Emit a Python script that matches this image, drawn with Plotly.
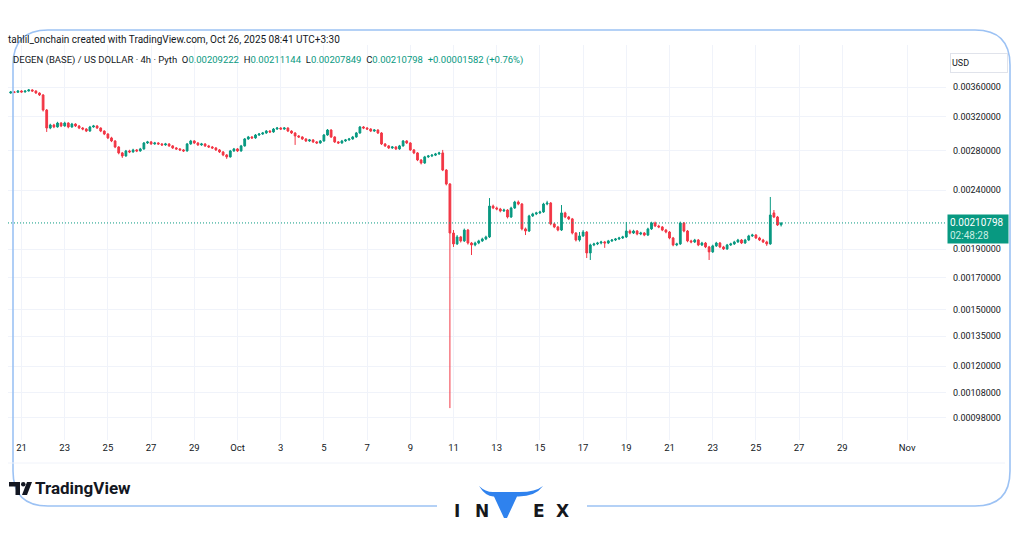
import pandas as pd
import plotly.graph_objects as go

# ---------------- data (DEGEN/USD, 4h candles) ----------------
TIMES = pd.date_range("2025-09-20 12:00", "2025-10-26 04:00", freq="4h")

OPEN = [
    0.003516, 0.003530, 0.003526,
    0.003544, 0.003530, 0.003544, 0.003558, 0.003544, 0.003516,
    0.003489, 0.003288, 0.003063, 0.003100, 0.003076, 0.003124,
    0.003088, 0.003124, 0.003076, 0.003112, 0.003088, 0.003063,
    0.003051, 0.003027, 0.003076, 0.003088, 0.003063, 0.003027,
    0.002992, 0.002946, 0.002911, 0.002843, 0.002777, 0.002744,
    0.002799, 0.002788, 0.002810, 0.002799, 0.002821, 0.002888,
    0.002900, 0.002877, 0.002888, 0.002877, 0.002866, 0.002877,
    0.002855, 0.002832, 0.002821, 0.002810, 0.002799, 0.002877,
    0.002911, 0.002888, 0.002866, 0.002877, 0.002855, 0.002843,
    0.002832, 0.002810, 0.002788, 0.002755, 0.002734, 0.002799,
    0.002821, 0.002799, 0.002855, 0.002934, 0.002957, 0.002946,
    0.002980, 0.002992, 0.003004, 0.003027, 0.003016, 0.003051,
    0.003063, 0.003051, 0.003063, 0.003027, 0.003004, 0.002969,
    0.002957, 0.002934, 0.002911, 0.002923, 0.002900, 0.002888,
    0.002911, 0.002980, 0.003039, 0.002957, 0.002900, 0.002888,
    0.002911, 0.002923, 0.002934, 0.002957, 0.003004, 0.003076,
    0.003063, 0.003051, 0.003027, 0.003039, 0.003004, 0.002877,
    0.002855, 0.002832, 0.002843, 0.002821, 0.002855, 0.002911,
    0.002888, 0.002810, 0.002777, 0.002701, 0.002669, 0.002734,
    0.002744, 0.002753, 0.002766, 0.002777, 0.002596, 0.002457,
    0.002026, 0.001941, 0.001995, 0.001964, 0.002050, 0.001948,
    0.001933, 0.001948, 0.001964, 0.001979, 0.001995, 0.002253,
    0.002236, 0.002227, 0.002210, 0.002218, 0.002158, 0.002236,
    0.002289, 0.002271, 0.002059, 0.002042, 0.002167, 0.002184,
    0.002193, 0.002201, 0.002271, 0.002280, 0.002100, 0.002075,
    0.002050, 0.002193, 0.002158, 0.002142, 0.002026, 0.001971,
    0.002003, 0.002034, 0.001873, 0.001933, 0.001941, 0.001948,
    0.001956, 0.001948, 0.001964, 0.001971, 0.001979, 0.001987,
    0.001995, 0.002042, 0.002026, 0.002042, 0.002018, 0.002026,
    0.002010, 0.002059, 0.002108, 0.002083, 0.002075, 0.002050,
    0.002034, 0.001987, 0.001933, 0.001941, 0.002108, 0.002042,
    0.001964, 0.001956, 0.001971, 0.001933, 0.001948, 0.001918,
    0.001881, 0.001926, 0.001948, 0.001918, 0.001903, 0.001933,
    0.001941, 0.001956, 0.001971, 0.001948, 0.001971, 0.002003,
    0.002010, 0.001987, 0.001971, 0.001956, 0.001941, 0.002193,
    0.002158, 0.00209222,
]
HIGH = [
    0.003544, 0.003542, 0.003556,
    0.003555, 0.003552, 0.003572, 0.003569, 0.003553, 0.003525,
    0.003500, 0.003301, 0.003115, 0.003114, 0.003139, 0.003135,
    0.003140, 0.003133, 0.003126, 0.003121, 0.003099, 0.003075,
    0.003062, 0.003089, 0.003101, 0.003098, 0.003071, 0.003035,
    0.003001, 0.002959, 0.002920, 0.002852, 0.002788, 0.002810,
    0.002812, 0.002823, 0.002820, 0.002833, 0.002899, 0.002912,
    0.002911, 0.002900, 0.002897, 0.002886, 0.002889, 0.002885,
    0.002864, 0.002842, 0.002830, 0.002820, 0.002888, 0.002923,
    0.002920, 0.002898, 0.002889, 0.002885, 0.002866, 0.002854,
    0.002841, 0.002820, 0.002797, 0.002765, 0.002810, 0.002832,
    0.002831, 0.002866, 0.002945, 0.002969, 0.002968, 0.002992,
    0.003004, 0.003016, 0.003039, 0.003038, 0.003063, 0.003076,
    0.003074, 0.003075, 0.003072, 0.003036, 0.003013, 0.002980,
    0.002966, 0.002943, 0.002934, 0.002932, 0.002910, 0.002922,
    0.002992, 0.003051, 0.003048, 0.002966, 0.002910, 0.002923,
    0.002934, 0.002946, 0.002969, 0.003016, 0.003088, 0.003087,
    0.003074, 0.003061, 0.003050, 0.003048, 0.003014, 0.002887,
    0.002865, 0.002854, 0.002853, 0.002866, 0.002922, 0.002920,
    0.002897, 0.002820, 0.002786, 0.002710, 0.002745, 0.002755,
    0.002764, 0.002777, 0.002790, 0.002810, 0.002605, 0.002466,
    0.002050, 0.002010, 0.002003, 0.002062, 0.002059, 0.001956,
    0.001958, 0.001973, 0.001989, 0.002005, 0.002325, 0.002266,
    0.002248, 0.002237, 0.002230, 0.002226, 0.002247, 0.002300,
    0.002303, 0.002280, 0.002070, 0.002177, 0.002194, 0.002203,
    0.002212, 0.002282, 0.002300, 0.002289, 0.002110, 0.002084,
    0.002262, 0.002203, 0.002167, 0.002150, 0.002034, 0.002034,
    0.002050, 0.002042, 0.001943, 0.001950, 0.001957, 0.001965,
    0.001964, 0.001972, 0.001979, 0.001987, 0.001996, 0.002004,
    0.002116, 0.002054, 0.002052, 0.002050, 0.002036, 0.002034,
    0.002069, 0.002118, 0.002119, 0.002093, 0.002083, 0.002059,
    0.002042, 0.001995, 0.001950, 0.002119, 0.002116, 0.002050,
    0.001973, 0.001980, 0.001979, 0.001957, 0.001956, 0.001926,
    0.001935, 0.001957, 0.001956, 0.001926, 0.001941, 0.001950,
    0.001965, 0.001980, 0.001979, 0.001980, 0.002012, 0.002020,
    0.002018, 0.001996, 0.001980, 0.001965, 0.002335, 0.002218,
    0.002167, 0.00211144,
]
LOW = [
    0.003506, 0.003514, 0.003519,
    0.003521, 0.003523, 0.003536, 0.003532, 0.003504, 0.003475,
    0.003269, 0.003016, 0.003049, 0.003061, 0.003068, 0.003074,
    0.003079, 0.003060, 0.003066, 0.003075, 0.003050, 0.003036,
    0.003015, 0.003019, 0.003067, 0.003052, 0.003014, 0.002979,
    0.002933, 0.002898, 0.002830, 0.002762, 0.002723, 0.002736,
    0.002775, 0.002779, 0.002786, 0.002790, 0.002812, 0.002877,
    0.002867, 0.002868, 0.002865, 0.002854, 0.002857, 0.002844,
    0.002821, 0.002810, 0.002798, 0.002787, 0.002791, 0.002868,
    0.002876, 0.002855, 0.002856, 0.002843, 0.002832, 0.002820,
    0.002799, 0.002776, 0.002742, 0.002713, 0.002726, 0.002789,
    0.002787, 0.002790, 0.002846, 0.002924, 0.002934, 0.002936,
    0.002969, 0.002981, 0.002993, 0.003003, 0.003006, 0.003040,
    0.003039, 0.003041, 0.003015, 0.002992, 0.002866, 0.002945,
    0.002922, 0.002899, 0.002901, 0.002888, 0.002876, 0.002879,
    0.002902, 0.002971, 0.002945, 0.002888, 0.002876, 0.002879,
    0.002901, 0.002913, 0.002925, 0.002948, 0.002995, 0.003050,
    0.003039, 0.003015, 0.003017, 0.002992, 0.002865, 0.002843,
    0.002820, 0.002821, 0.002809, 0.002812, 0.002846, 0.002876,
    0.002799, 0.002764, 0.002689, 0.002654, 0.002660, 0.002723,
    0.002732, 0.002743, 0.002756, 0.002585, 0.002444, 0.001017,
    0.001918, 0.001933, 0.001952, 0.001956, 0.001936, 0.001858,
    0.001923, 0.001939, 0.001956, 0.001970, 0.001987, 0.002226,
    0.002216, 0.002198, 0.002201, 0.002146, 0.002150, 0.002228,
    0.002260, 0.002047, 0.002010, 0.002034, 0.002158, 0.002174,
    0.002183, 0.002193, 0.002260, 0.002089, 0.002065, 0.002040,
    0.002042, 0.002148, 0.002132, 0.002015, 0.001960, 0.001959,
    0.001995, 0.001836, 0.001822, 0.001924, 0.001932, 0.001938,
    0.001911, 0.001940, 0.001956, 0.001963, 0.001971, 0.001979,
    0.001987, 0.002016, 0.002018, 0.002008, 0.002009, 0.002001,
    0.002002, 0.002051, 0.002074, 0.002065, 0.002041, 0.002024,
    0.001977, 0.001923, 0.001924, 0.001933, 0.002032, 0.001954,
    0.001946, 0.001948, 0.001924, 0.001925, 0.001909, 0.001822,
    0.001873, 0.001918, 0.001909, 0.001895, 0.001896, 0.001925,
    0.001933, 0.001949, 0.001940, 0.001941, 0.001963, 0.001995,
    0.001979, 0.001963, 0.001948, 0.001926, 0.001934, 0.002149,
    0.002083, 0.00207849,
]
CLOSE = [
    0.003530, 0.003526, 0.003544,
    0.003530, 0.003544, 0.003558, 0.003544, 0.003516, 0.003489,
    0.003288, 0.003063, 0.003100, 0.003076, 0.003124, 0.003088,
    0.003124, 0.003076, 0.003112, 0.003088, 0.003063, 0.003051,
    0.003027, 0.003076, 0.003088, 0.003063, 0.003027, 0.002992,
    0.002946, 0.002911, 0.002843, 0.002777, 0.002744, 0.002799,
    0.002788, 0.002810, 0.002799, 0.002821, 0.002888, 0.002900,
    0.002877, 0.002888, 0.002877, 0.002866, 0.002877, 0.002855,
    0.002832, 0.002821, 0.002810, 0.002799, 0.002877, 0.002911,
    0.002888, 0.002866, 0.002877, 0.002855, 0.002843, 0.002832,
    0.002810, 0.002788, 0.002755, 0.002734, 0.002799, 0.002821,
    0.002799, 0.002855, 0.002934, 0.002957, 0.002946, 0.002980,
    0.002992, 0.003004, 0.003027, 0.003016, 0.003051, 0.003063,
    0.003051, 0.003063, 0.003027, 0.003004, 0.002969, 0.002957,
    0.002934, 0.002911, 0.002923, 0.002900, 0.002888, 0.002911,
    0.002980, 0.003039, 0.002957, 0.002900, 0.002888, 0.002911,
    0.002923, 0.002934, 0.002957, 0.003004, 0.003076, 0.003063,
    0.003051, 0.003027, 0.003039, 0.003004, 0.002877, 0.002855,
    0.002832, 0.002843, 0.002821, 0.002855, 0.002911, 0.002888,
    0.002810, 0.002777, 0.002701, 0.002669, 0.002734, 0.002744,
    0.002753, 0.002766, 0.002777, 0.002596, 0.002457, 0.002026,
    0.001941, 0.001995, 0.001964, 0.002050, 0.001948, 0.001933,
    0.001948, 0.001964, 0.001979, 0.001995, 0.002253, 0.002236,
    0.002227, 0.002210, 0.002218, 0.002158, 0.002236, 0.002289,
    0.002271, 0.002059, 0.002042, 0.002167, 0.002184, 0.002193,
    0.002201, 0.002271, 0.002280, 0.002100, 0.002075, 0.002050,
    0.002193, 0.002158, 0.002142, 0.002026, 0.001971, 0.002003,
    0.002034, 0.001873, 0.001933, 0.001941, 0.001948, 0.001956,
    0.001948, 0.001964, 0.001971, 0.001979, 0.001987, 0.001995,
    0.002042, 0.002026, 0.002042, 0.002018, 0.002026, 0.002010,
    0.002059, 0.002108, 0.002083, 0.002075, 0.002050, 0.002034,
    0.001987, 0.001933, 0.001941, 0.002108, 0.002042, 0.001964,
    0.001956, 0.001971, 0.001933, 0.001948, 0.001918, 0.001881,
    0.001926, 0.001948, 0.001918, 0.001903, 0.001933, 0.001941,
    0.001956, 0.001971, 0.001948, 0.001971, 0.002003, 0.002010,
    0.001987, 0.001971, 0.001956, 0.001941, 0.002175, 0.002158,
    0.002091, 0.00210798,
]

PRICE_TICKS = [0.0036, 0.0032, 0.0028, 0.0024, 0.0019, 0.0017, 0.0015,
               0.00135, 0.0012, 0.00108, 0.00098]
DATE_TICKS = ["2025-09-21", "2025-09-23", "2025-09-25", "2025-09-27", "2025-09-29",
              "2025-10-01", "2025-10-03", "2025-10-05", "2025-10-07", "2025-10-09",
              "2025-10-11", "2025-10-13", "2025-10-15", "2025-10-17", "2025-10-19",
              "2025-10-21", "2025-10-23", "2025-10-25", "2025-10-27", "2025-10-29",
              "2025-11-01"]
DATE_LABELS = ["21", "23", "25", "27", "29", "Oct", "3", "5", "7", "9", "11", "13",
               "15", "17", "19", "21", "23", "25", "27", "29", "Nov"]

HEADER_1 = "tahlil_onchain created with TradingView.com, Oct 26, 2025 08:41 UTC+3:30"
SYMBOL = "DEGEN (BASE) / US DOLLAR · 4h · Pyth"
CHANGE_TEXT = "+0.00001582 (+0.76%)"
COUNTDOWN = "02:48:28"

# ---------------- layout geometry ----------------
W, H = 1024, 538
ML, MR, MT, MB = 8, 78, 45, 98
PW, PH = W - ML - MR, H - MT - MB
X_RANGE = ["2025-09-20 09:00", "2025-11-02 19:12"]
Y_RANGE = [-3.04722, -2.37189]

UP, DOWN = "#089981", "#F23645"
TXT = "#131722"
GRID = "#f0f3fa"
FONT = "Roboto"


def fx(x):
    return (x - ML) / PW


def fy(y):
    return (H - MB - y) / PH


def P(x, y):
    return f"{fx(x):.5f},{fy(y):.5f}"


fig = go.Figure()
fig.add_trace(go.Candlestick(
    x=TIMES, open=OPEN, high=HIGH, low=LOW, close=CLOSE,
    increasing=dict(line=dict(color=UP, width=1), fillcolor=UP),
    decreasing=dict(line=dict(color=DOWN, width=1), fillcolor=DOWN),
    whiskerwidth=0, hoverinfo="skip", showlegend=False,
))

LAST = CLOSE[-1]
fig.add_trace(go.Scatter(
    x=X_RANGE, y=[LAST, LAST], mode="lines",
    line=dict(color=UP, width=1, dash="1px,2px"), hoverinfo="skip", showlegend=False,
))

ann = []
ann.append(dict(text=HEADER_1, x=fx(6), y=fy(40), xref="paper", yref="paper",
                xanchor="left", yanchor="middle", showarrow=False,
                font=dict(family=FONT, size=10, color=TXT)))


def g(v):
    return f"<span style='color:{UP}'>{v}</span>"


sp = "\u00a0\u00a0"
line2 = (SYMBOL + sp + "O" + g(f"{OPEN[-1]:.8f}") + sp + "H" + g(f"{HIGH[-1]:.8f}") + sp
         + "L" + g(f"{LOW[-1]:.8f}") + sp + "C" + g(f"{CLOSE[-1]:.8f}") + sp + g(CHANGE_TEXT))
ann.append(dict(text=line2, x=fx(11), y=fy(60), xref="paper", yref="paper",
                xanchor="left", yanchor="middle", showarrow=False,
                font=dict(family=FONT, size=9.5, color=TXT)))

# USD box
ann.append(dict(text="USD", x=fx(950), y=fy(63), xref="paper", yref="paper",
                xanchor="left", yanchor="middle", showarrow=False, width=54, height=16,
                align="left", bgcolor="white", bordercolor="#e0e3eb", borderwidth=1,
                borderpad=1, font=dict(family=FONT, size=9, color=TXT)))

# last price label
ann.append(dict(text=f"{LAST:.8f}<br><span style='color:#c9eee4'>{COUNTDOWN}</span>",
                x=fx(947), y=fy(229), xref="paper", yref="paper",
                xanchor="left", yanchor="middle", showarrow=False, align="left",
                bgcolor=UP, borderpad=2, width=56,
                font=dict(family=FONT, size=10, color="white")))

# TradingView watermark
ann.append(dict(text="<b>TradingView</b>", x=fx(33), y=fy(488), xref="paper", yref="paper",
                xanchor="left", yanchor="middle", showarrow=False,
                font=dict(family=FONT, size=17, color=TXT)))

# INVEX letters
for ch, cx in [("I", 457), ("N", 482), ("E", 539), ("X", 562)]:
    ann.append(dict(text=f"<b>{ch}</b>", x=fx(cx), y=fy(510.5), xref="paper", yref="paper",
                    xanchor="center", yanchor="middle", showarrow=False,
                    font=dict(family="DejaVu Sans", size=17, color="#15171c")))

shapes = []
# blue rounded frame with a gap for the INVEX logo
r = 35
frame = (f"M {P(437, 506)} L {P(13 + r, 506)} Q {P(13, 506)} {P(13, 506 - r)} "
         f"L {P(13, 30 + r)} Q {P(13, 30)} {P(13 + r, 30)} L {P(1010 - r, 30)} "
         f"Q {P(1010, 30)} {P(1010, 30 + r)} L {P(1010, 506 - r)} "
         f"Q {P(1010, 506)} {P(1010 - r, 506)} L {P(587, 506)}")
shapes.append(dict(type="path", path=frame, xref="paper", yref="paper",
                   line=dict(color="#9cc2f4", width=1.6), layer="above"))

# TV logo icon
tv1 = f"M {P(9, 482)} L {P(20, 482)} L {P(20, 495)} L {P(15.5, 495)} L {P(15.5, 486.5)} L {P(9, 486.5)} Z"
tv2 = f"M {P(27, 482)} L {P(32, 482)} L {P(27, 495)} L {P(22, 495)} Z"
shapes.append(dict(type="path", path=tv1, xref="paper", yref="paper",
                   fillcolor=TXT, line=dict(width=0)))
shapes.append(dict(type="path", path=tv2, xref="paper", yref="paper",
                   fillcolor=TXT, line=dict(width=0)))
shapes.append(dict(type="circle", xref="paper", yref="paper",
                   x0=fx(21), x1=fx(25.5), y0=fy(482), y1=fy(486.5),
                   fillcolor=TXT, line=dict(width=0)))

# INVEX blue bull-head "V"
bull = (f"M {P(479, 486)} Q {P(486, 497)} {P(494, 496.5)} L {P(504, 518)} L {P(507, 518)} "
        f"L {P(517, 496.5)} Q {P(535, 497)} {P(543, 486)} Q {P(535, 492.5)} {P(517, 492)} "
        f"L {P(494, 492)} Q {P(486, 492.5)} {P(479, 486)} Z")
shapes.append(dict(type="path", path=bull, xref="paper", yref="paper",
                   fillcolor="#2f82ee", line=dict(width=0)))

# faint separator under time axis
shapes.append(dict(type="line", xref="paper", yref="paper", x0=fx(8), x1=fx(1005),
                   y0=fy(463), y1=fy(463), line=dict(color="#f0f3fa", width=1)))

fig.update_layout(
    width=W, height=H,
    margin=dict(l=ML, r=MR, t=MT, b=MB, autoexpand=False),
    paper_bgcolor="white", plot_bgcolor="white",
    font=dict(family=FONT, size=9, color=TXT),
    showlegend=False,
    annotations=ann, shapes=shapes,
    xaxis=dict(type="date", range=X_RANGE, rangeslider=dict(visible=False),
               tickvals=DATE_TICKS, ticktext=DATE_LABELS, showgrid=True,
               gridcolor=GRID, gridwidth=1, zeroline=False, showline=False,
               ticks="", tickfont=dict(family=FONT, size=9.5, color=TXT)),
    yaxis=dict(type="log", side="right", range=Y_RANGE, tickvals=PRICE_TICKS,
               ticktext=[f"{v:.8f}" for v in PRICE_TICKS], showgrid=True,
               gridcolor=GRID, gridwidth=1, zeroline=False, showline=False,
               ticks="", ticklabelstandoff=6,
               tickfont=dict(family=FONT, size=9, color=TXT)),
)

fig.write_html("out.html", config={"displayModeBar": False},
               post_script="document.body.style.margin='0';")
